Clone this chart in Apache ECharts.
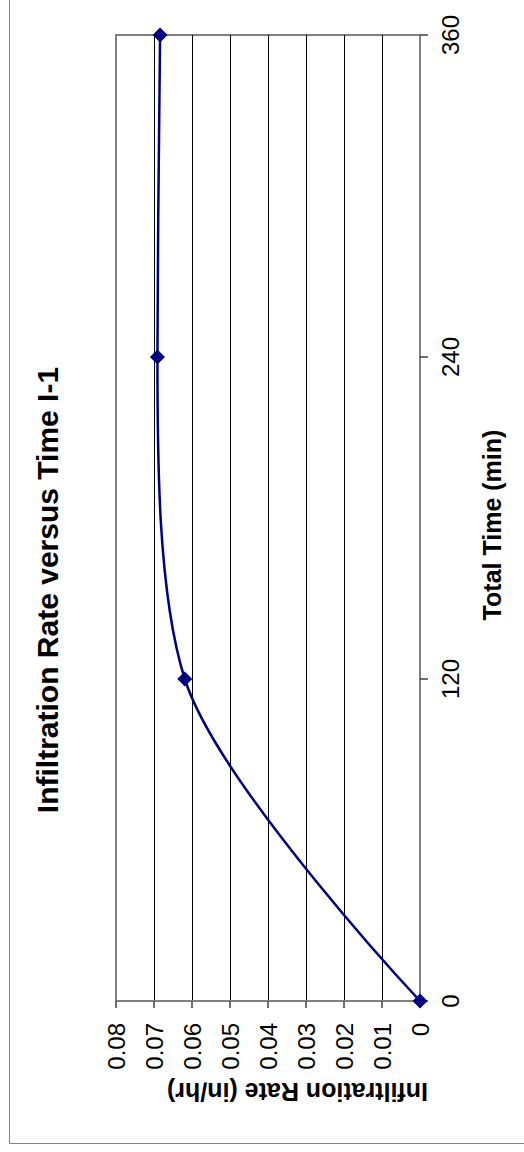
<!DOCTYPE html>
<html><head><meta charset="utf-8">
<script src="https://cdn.jsdelivr.net/npm/echarts@6/dist/echarts.min.js"></script>
<style>html,body{margin:0;padding:0;background:#fff;}#c{width:524px;height:1152px;}</style>
</head><body><div id="c"></div>
<script>
const chartTitle = 'Infiltration Rate versus Time I-1';
const timeTitle = 'Total Time (min)';
const rateTitle = 'Infiltration Rate (in/hr)';
const totalTime = [0, 120, 240, 360];
const infiltrationRate = [0, 0.0619, 0.0691, 0.0684];
const timeTicks = [0, 120, 240, 360];
const rateTicks = [0, 0.01, 0.02, 0.03, 0.04, 0.05, 0.06, 0.07, 0.08];

const FONT = '"Liberation Sans", Arial, sans-serif';
const chart = echarts.init(document.getElementById('c'), null, {renderer: 'svg'});
const points = totalTime.map((t, i) => [infiltrationRate[i], t]);

chart.setOption({
  animation: false,
  backgroundColor: '#fff',
  grid: {left: 116, top: 35, width: 304, height: 966, show: true, borderColor: '#808080', borderWidth: 2,
         backgroundColor: 'transparent', containLabel: false, outerBoundsMode: 'none'},
  xAxis: {
    type: 'value', position: 'bottom', inverse: true,
    min: rateTicks[0], max: rateTicks[rateTicks.length - 1], interval: rateTicks[1] - rateTicks[0],
    axisLine: {show: true, lineStyle: {color: '#808080', width: 2}},
    axisTick: {show: true, inside: false, length: 7, lineStyle: {color: '#404040', width: 1.5}},
    axisLabel: {rotate: 90, margin: 22, fontSize: 24, color: '#000', fontFamily: FONT,
      formatter: v => String(Math.round(v * 100) / 100)},
    splitLine: {show: true, showMinLine: false, showMaxLine: false, lineStyle: {color: '#000', width: 1}}
  },
  yAxis: {
    type: 'value', position: 'right',
    min: timeTicks[0], max: timeTicks[timeTicks.length - 1], interval: timeTicks[1] - timeTicks[0],
    axisLine: {show: true, lineStyle: {color: '#808080', width: 2}},
    axisTick: {show: true, inside: false, length: 8, lineStyle: {color: '#404040', width: 1.5}},
    axisLabel: {rotate: 90, margin: 18, fontSize: 24, color: '#000', fontFamily: FONT},
    splitLine: {show: false}
  },
  graphic: [
    {type: 'rect', silent: true, z: -10, shape: {x: 9.5, y: -10, width: 530, height: 1153.5},
     style: {fill: 'none', stroke: '#808080', lineWidth: 1}},
    {type: 'text', x: 47, y: 590, rotation: Math.PI / 2,
     style: {text: chartTitle, x: 0, y: 0, fill: '#000', fontSize: 30, fontWeight: 'bold', fontFamily: FONT,
             align: 'center', verticalAlign: 'middle'}},
    {type: 'text', x: 492, y: 525, rotation: Math.PI / 2,
     style: {text: timeTitle, x: 0, y: 0, fill: '#000', fontSize: 25, fontWeight: 'bold', fontFamily: FONT,
             align: 'center', verticalAlign: 'middle'}},
    {type: 'text', x: 297.5, y: 1092, rotation: Math.PI,
     style: {text: rateTitle, x: 0, y: 0, fill: '#000', fontSize: 25, fontWeight: 'bold', fontFamily: FONT,
             align: 'center', verticalAlign: 'middle'}}
  ],
  series: [{
    type: 'line', data: points, smooth: 0.3, clip: false,
    symbol: 'diamond', symbolSize: 15,
    lineStyle: {color: '#000080', width: 2.5},
    itemStyle: {color: '#000080'}
  }]
});
</script></body></html>
